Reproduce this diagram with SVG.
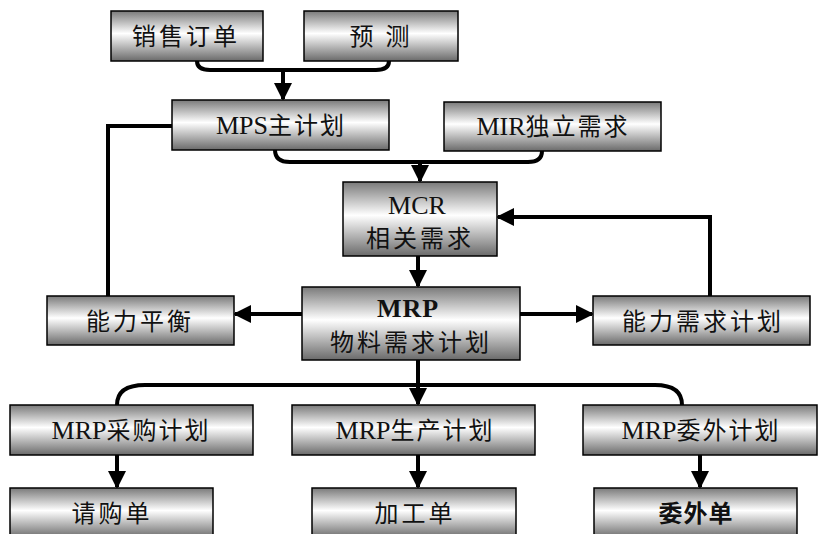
<svg xmlns="http://www.w3.org/2000/svg" width="818" height="534" viewBox="0 0 818 534">
<defs>
<linearGradient id="g" x1="0" y1="0" x2="0" y2="1">
<stop offset="0" stop-color="#7a7a7a"/>
<stop offset="0.45" stop-color="#ffffff"/>
<stop offset="1" stop-color="#6a6a6a"/>
</linearGradient>
<marker id="ah" markerWidth="4.5" markerHeight="4.5" refX="4" refY="2.25" orient="auto" markerUnits="strokeWidth">
<path d="M0,0 L4.5,2.25 L0,4.5 z" fill="#000"/>
</marker>
</defs>
<style>
.box{fill:url(#g);stroke:#000;stroke-width:1.5}
.t{font-family:"Liberation Serif","Noto Sans CJK SC",serif;font-size:24px;fill:#111;text-anchor:middle;letter-spacing:3px}
.m{letter-spacing:2px}
.l{font-size:26px;letter-spacing:0}
.b{font-weight:bold;letter-spacing:1px}
.c{fill:none;stroke:#000;stroke-width:4}
.a{marker-end:url(#ah)}
</style>
<rect width="818" height="534" fill="#fff"/>
<g id="connectors">
<path class="c" d="M197,61 Q197,70 210,70 L376,70 Q389,70 389,61"/>
<path class="c a" d="M283,70 L283,99"/>
<path class="c" d="M275,150 Q275,162 290,162 L528,162 Q542,162 542,151"/>
<path class="c a" d="M420,162 L420,181"/>
<path class="c" d="M172,126 L108,126 L108,296"/>
<path class="c a" d="M418,256 L418,286"/>
<path class="c a" d="M302,314 L235,314"/>
<path class="c a" d="M520,314 L592,314"/>
<path class="c a" d="M710,296 L710,217 L498,217"/>
<path class="c" d="M117,405 Q117,385 145,385 L655,385 Q682,385 682,405"/>
<path class="c a" d="M418,360 L418,404"/>
<path class="c a" d="M117,455 L117,487"/>
<path class="c a" d="M418,455 L418,487"/>
<path class="c a" d="M700,455 L700,487"/>
</g>
<g id="n1"><rect class="box" x="111" y="11" width="152" height="50"/><text class="t" x="186" y="45">销售订单</text></g>
<g id="n2"><rect class="box" x="304" y="11" width="154" height="50"/><text class="t" x="381" y="45">预 测</text></g>
<g id="n3"><rect class="box" x="172" y="100" width="217" height="50"/><text class="t m" x="281" y="134"><tspan class="l">MPS</tspan>主计划</text></g>
<g id="n4"><rect class="box" x="444" y="102" width="217" height="49"/><text class="t m" x="553" y="135"><tspan class="l">MIR</tspan>独立需求</text></g>
<g id="n5"><rect class="box" x="343" y="182" width="154" height="74"/><text class="t l" x="417" y="214">MCR</text><text class="t" x="420" y="247">相关需求</text></g>
<g id="n6"><rect class="box" x="302" y="287" width="218" height="73"/><text class="t b" x="408" y="317" style="font-size:26px">MRP</text><text class="t" x="411" y="351">物料需求计划</text></g>
<g id="n7"><rect class="box" x="47" y="296" width="187" height="49"/><text class="t" x="140" y="330">能力平衡</text></g>
<g id="n8"><rect class="box" x="593" y="296" width="217" height="49"/><text class="t" x="703" y="330">能力需求计划</text></g>
<g id="n9"><rect class="box" x="10" y="405" width="243" height="50"/><text class="t m" x="131" y="439"><tspan class="l">MRP</tspan>采购计划</text></g>
<g id="n10"><rect class="box" x="292" y="405" width="243" height="50"/><text class="t m" x="415" y="439"><tspan class="l">MRP</tspan>生产计划</text></g>
<g id="n11"><rect class="box" x="583" y="405" width="234" height="50"/><text class="t m" x="701" y="439"><tspan class="l">MRP</tspan>委外计划</text></g>
<g id="n12"><rect class="box" x="10" y="488" width="203" height="50"/><text class="t" x="112" y="522">请购单</text></g>
<g id="n13"><rect class="box" x="312" y="488" width="204" height="50"/><text class="t" x="415" y="522">加工单</text></g>
<g id="n14"><rect class="box" x="594" y="488" width="203" height="50"/><text class="t b" x="696" y="522">委外单</text></g>
</svg>
